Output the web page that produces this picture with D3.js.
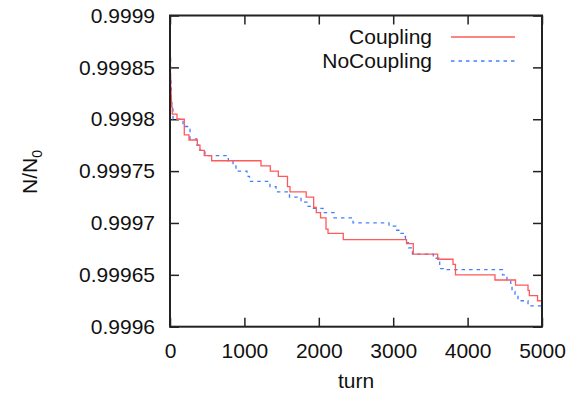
<!DOCTYPE html>
<html><head><meta charset="utf-8">
<script src="https://cdn.jsdelivr.net/npm/d3@7"></script>
<style>body{margin:0;background:#fff;}svg{display:block;}text{font-family:"Liberation Sans",Arial,sans-serif;}</style>
</head><body><svg id="c" width="570" height="394"></svg>
<script>
const xTicks = [0,1000,2000,3000,4000,5000];
const yTicks = [0.9996,0.99965,0.9997,0.99975,0.9998,0.99985,0.9999];
const yTickLabels = ["0.9996","0.99965","0.9997","0.99975","0.9998","0.99985","0.9999"];
const seriesNames = ["Coupling","NoCoupling"];
const couplingTurn = [0,3,6,10,15,20,30,94,192,255,367,403,461,560,1223,1348,1456,1579,1613,1831,1931,1966,2023,2097,2124,2329,3179,3270,3598,3804,3837,4368,4644,4812,4830,4940,5000];
const couplingVal = [0.99989,0.99986,0.99984,0.99983,0.99982,0.999812,0.999805,0.9998,0.999785,0.99978,0.999775,0.99977,0.999765,0.99976,0.999755,0.99975,0.999745,0.999735,0.99973,0.999725,0.999715,0.99971,0.999705,0.999694,0.99969,0.999684,0.99968,0.99967,0.999665,0.99966,0.99965,0.999645,0.99964,0.999635,0.99963,0.999625,0.999625];
const noCouplingTurn = [0,4,8,12,18,25,40,175,269,359,403,470,784,847,887,1035,1068,1344,1425,1606,1761,1841,1895,2056,2204,2460,2943,3037,3090,3158,3165,3205,3259,3539,3615,3625,3673,4469,4529,4580,4597,4637,4677,4812,5000];
const noCouplingVal = [0.99988,0.99986,0.99984,0.99983,0.99982,0.99981,0.9998,0.999793,0.999781,0.999775,0.99977,0.999765,0.99976,0.999755,0.99975,0.999745,0.99974,0.999735,0.99973,0.999725,0.99972,0.999716,0.999714,0.99971,0.999705,0.9997,0.999697,0.999693,0.99969,0.999687,0.999681,0.999676,0.99967,0.999666,0.999663,0.999656,0.999655,0.99965,0.999645,0.99964,0.999634,0.99963,0.999625,0.99962,0.99962];

const svg = d3.select("#c");
const L=170, T=15.5, R=542, B=326.7;
const x = d3.scaleLinear().domain([0,5000]).range([L,R]);
const y = d3.scaleLinear().domain([0.9996,0.9999]).range([B,T]);
const axisColor="#222";
const fs=21;

const tl=9;
const axB = d3.axisBottom(x).tickValues(xTicks).tickSize(-tl).tickFormat(d=>d3.format("d")(d)).tickPadding(16);
const gB = svg.append("g").attr("transform",`translate(0,${B})`).call(axB);
const axT = d3.axisTop(x).tickValues(xTicks).tickSize(-tl).tickFormat("");
const gT = svg.append("g").attr("transform",`translate(0,${T})`).call(axT);
const axL = d3.axisLeft(y).tickValues(yTicks).tickSize(-tl).tickFormat((d,i)=>yTickLabels[i]).tickPadding(15);
const gL = svg.append("g").attr("transform",`translate(${L},0)`).call(axL);
const axR = d3.axisRight(y).tickValues(yTicks).tickSize(-tl).tickFormat("");
const gR = svg.append("g").attr("transform",`translate(${R},0)`).call(axR);
[gB,gT,gL,gR].forEach(g=>{
  g.select(".domain").remove();
  g.selectAll(".tick line").attr("stroke",axisColor).attr("stroke-width",1.5);
  g.selectAll("text").attr("fill","#111").style("font-size",fs+"px").style("font-family","'Liberation Sans',Arial,sans-serif");
});

const line = d3.line().x(d=>x(d[0])).y(d=>y(d[1])).curve(d3.curveStepAfter);
const cData = couplingTurn.map((t,i)=>[t,couplingVal[i]]);
const nData = noCouplingTurn.map((t,i)=>[t,noCouplingVal[i]]);
svg.append("path").datum(nData).attr("d",line).attr("fill","none").attr("stroke","#3f7fff").attr("stroke-width",1.3).attr("stroke-dasharray","3.5,4");
svg.append("path").datum(cData).attr("d",line).attr("fill","none").attr("stroke","#ff5a5a").attr("stroke-width",1.3);

svg.append("rect").attr("x",L).attr("y",T).attr("width",R-L).attr("height",B-T).attr("fill","none").attr("stroke",axisColor).attr("stroke-width",2);

svg.append("text").attr("x",(L+R)/2).attr("y",388).attr("text-anchor","middle").style("font-size",fs+"px").attr("fill","#111").text("turn");
const yl = svg.append("text").attr("transform","translate(37,172) rotate(-90)").attr("text-anchor","middle").style("font-size",fs+"px").attr("fill","#111");
yl.append("tspan").text("N/N");
yl.append("tspan").attr("dy",5).style("font-size","14px").text("0");

const leg = [{name:seriesNames[0],color:"#ff5a5a",dash:null,y:37},{name:seriesNames[1],color:"#3f7fff",dash:"3.5,4",y:61}];
leg.forEach(d=>{
  svg.append("text").attr("x",432).attr("y",d.y+7).attr("text-anchor","end").style("font-size",fs+"px").attr("fill","#111").text(d.name);
  svg.append("line").attr("x1",451).attr("x2",515).attr("y1",d.y).attr("y2",d.y).attr("stroke",d.color).attr("stroke-width",1.3).attr("stroke-dasharray",d.dash);
});
</script></body></html>
